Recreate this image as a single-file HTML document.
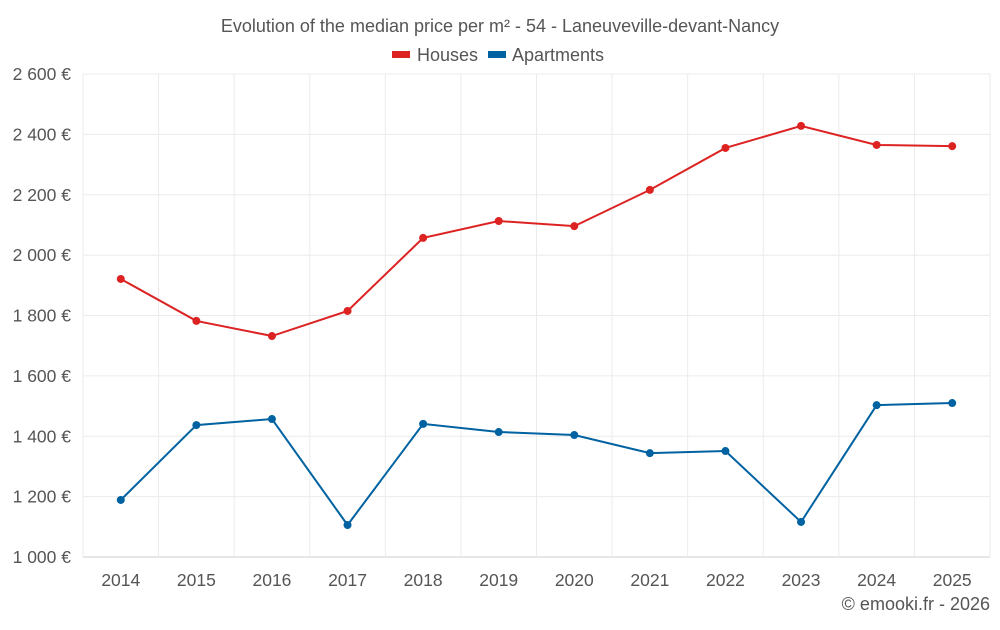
<!DOCTYPE html>
<html><head><meta charset="utf-8"><style>
body{margin:0;background:#fff;font-family:"Liberation Sans",sans-serif;}
svg text{font-family:"Liberation Sans",sans-serif;fill:#555;}
</style></head><body>
<svg id="chart" width="1000" height="625">
<text x="500" y="32" text-anchor="middle" font-size="18">Evolution of the median price per m² - 54 - Laneuveville-devant-Nancy</text>
<g>
<g><rect x="392" y="51" width="18" height="7" fill="#dd2222"/><text x="417" y="61" font-size="18">Houses</text></g>
<g><rect x="488" y="51" width="18" height="7" fill="#0062a0"/><text x="512" y="61" font-size="18">Apartments</text></g>
</g>
<g id="grid"></g><g id="axes"></g><g id="series"></g>
<text x="990" y="610" text-anchor="end" font-size="18">© emooki.fr - 2026</text>
</svg>
<script>
const years=["2014","2015","2016","2017","2018","2019","2020","2021","2022","2023","2024","2025"];
const houses=[1921,1782,1732,1815,2057,2113,2096,2216,2355,2428,2365,2361];
const apartments=[1189,1437,1457,1106,1441,1414,1404,1344,1351,1116,1503,1510];
const yTicks=[1000,1200,1400,1600,1800,2000,2200,2400,2600];
const L=83,R=990,T=74,B=557,yMin=1000,yMax=2600;
const NS="http://www.w3.org/2000/svg";
const band=(R-L)/years.length;
const xs=i=>L+band*(i+0.5);
const ys=v=>B-(v-yMin)/(yMax-yMin)*(B-T);
function mk(t,a,p){const e=document.createElementNS(NS,t);for(const k in a)e.setAttribute(k,a[k]);p.appendChild(e);return e;}
const grid=document.getElementById('grid'),axes=document.getElementById('axes'),ser=document.getElementById('series');
const fmt=v=>{const s=String(v);return (s.length>3?s.slice(0,-3)+" "+s.slice(-3):s)+" €";};
yTicks.forEach(v=>{
 const l=mk('line',{x1:L,x2:R,y1:ys(v),y2:ys(v),stroke:v===yMin?'#ccc':'#ebebeb'},grid);
 
 
 const t=mk('text',{x:71,y:ys(v)+6,'text-anchor':'end','font-size':17.5},axes);t.textContent=fmt(v);
 
 
});
for(let i=0;i<=years.length;i++){
 const l=mk('line',{x1:L+band*i,x2:L+band*i,y1:T,y2:B,stroke:'#ebebeb'},grid);
 
 
}
years.forEach((y,i)=>{
 const t=mk('text',{x:xs(i),y:586,'text-anchor':'middle','font-size':17.5},axes);t.textContent=y;
 
 
});
function draw(vals,color,name){
 const p=mk('polyline',{points:vals.map((v,i)=>xs(i)+','+ys(v)).join(' '),fill:'none',stroke:color,'stroke-width':2},ser);
 
 
 vals.forEach((v,i)=>{
  const c=mk('circle',{cx:xs(i),cy:ys(v),r:4,fill:color},ser);
  
  
 });
}
draw(houses,'#dd2222','houses');
draw(apartments,'#0062a0','apartments');
</script>
</body></html>
